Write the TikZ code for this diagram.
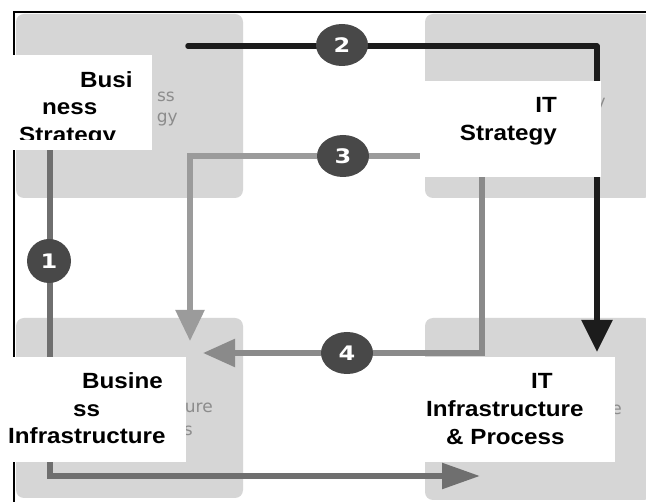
\documentclass[tikz,border=0pt]{standalone}
\usepackage{fontspec}
\setmainfont{Liberation Sans}
\newfontfamily\dejavu{DejaVu Sans}
\usetikzlibrary{arrows.meta,shapes.geometric}
\definecolor{boxgray}{HTML}{D6D6D6}
\definecolor{hidgray}{HTML}{8C8C8C}
\definecolor{badgegray}{HTML}{484848}
\definecolor{cone}{HTML}{6F6F6F}
\definecolor{ctwo}{HTML}{1C1C1C}
\definecolor{cthree}{HTML}{9B9B9B}
\definecolor{cfour}{HTML}{8A8A8A}
\newcommand\lbx[1]{\scalebox{1.1}[1]{#1}}
\newcommand\numx[1]{\scalebox{1.2}[1]{#1}}
\tikzset{
  panel/.style={fill=boxgray, rounded corners=8pt},
  hid/.style={inner sep=0pt, text=hidgray, font=\dejavu\fontsize{17}{17}\selectfont},
  lbl/.style={inner sep=0pt, text=black, font=\bfseries\fontsize{22}{22}\selectfont},
  whitebox/.style={fill=white},
  badge/.style={ellipse, fill=badgegray, minimum width=52pt, minimum height=42pt, inner sep=0pt,
    text=white, font=\dejavu\bfseries\fontsize{20}{20}\selectfont},
  conn/.style={line width=5.5pt, line join=miter},
}
\begin{document}
\begin{tikzpicture}[x=1pt,y=-1pt]
\useasboundingbox (0,0) rectangle (646,502);
\fill[white] (0,0) rectangle (646,502);
% frame
\draw[line width=2pt] (14,503) -- (14,12) -- (647,12);
% panels
\path[panel] (16,14) rectangle (243,198);
\path[panel] (425,14) rectangle (652,198);
\path[panel] (16,318) rectangle (243,498);
\path[panel] (425,318) rectangle (652,500);
% faint panel label fragments (the rest is covered by the white boxes)
\node[hid, anchor=base east] (h1) at (175,102) {ss};
\node[hid, anchor=base east] (h2) at (178,123) {gy};
\node[hid, anchor=base east] (h3) at (606,108) {y};
\node[hid, anchor=base east] (h4) at (213,413) {ure};
\node[hid, anchor=base east] (h5) at (193,436) {s};
\node[hid, anchor=base east] (h6) at (622,415) {e};
% connector points
\coordinate (a1s) at (50,140);
\coordinate (a1c) at (50,476);
\coordinate (a1e) at (480,476);
\coordinate (a2s) at (188,46);
\coordinate (a2c) at (597,46);
\coordinate (a2e) at (597,352);
\coordinate (a3s) at (420,156);
\coordinate (a3c) at (190,156);
\coordinate (a3e) at (190,341);
\coordinate (a4s) at (482,170);
\coordinate (a4c) at (482,353);
\coordinate (a4e) at (203,353);
% connectors
\draw[conn, draw=cone, -{Triangle[length=38pt,width=25pt]}] (a1s) -- (a1c) -- (a1e);
\draw[conn, draw=ctwo, line cap=round, line join=round, -{Triangle[length=32pt,width=30pt]}] (a2s) -- (a2c) -- (a2e);
\draw[conn, draw=cthree, -{Triangle[length=31pt,width=28pt]}] (a3s) -- (a3c) -- (a3e);
\draw[conn, draw=cfour, -{Triangle[length=32pt,width=27pt]}] (a4s) -- (a4c) -- (a4e);
% badges
\node[badge, minimum width=44pt, minimum height=44pt] (n1) at (49,261) {\numx{1}};
\node[badge] (n2) at (342,45) {\numx{2}};
\node[badge] (n3) at (343,156) {\numx{3}};
\node[badge] (n4) at (347,353) {\numx{4}};
% white label boxes
\path[whitebox] (0,55) rectangle (152,150);
\path[whitebox] (420,81) rectangle (601,177);
\path[whitebox] (0,357) rectangle (186,462);
\path[whitebox] (410,357) rectangle (615,462);
\begin{scope}
\clip (0,55) rectangle (152,140);
\node[lbl, anchor=base west] (bs1) at (80,88) {\lbx{Busi}};
\node[lbl, anchor=base west] (bs2) at (42,115) {\lbx{ness}};
\node[lbl, anchor=base west] (bs3) at (19,143) {\lbx{Strategy}};
\end{scope}
\node[lbl, anchor=base east] (is1) at (557,113) {\lbx{IT}};
\node[lbl, anchor=base east] (is2) at (557,141) {\lbx{Strategy}};
\node[lbl, anchor=base east] (bi1) at (163,389) {\lbx{Busine}};
\node[lbl, anchor=base west] (bi2) at (73,417) {\lbx{ss}};
\node[lbl, anchor=base west] (bi3) at (8,444) {\lbx{Infrastructure}};
\node[lbl, anchor=base west] (ii1) at (531,389) {\lbx{IT}};
\node[lbl, anchor=base west] (ii2) at (426,417) {\lbx{Infrastructure}};
\node[lbl, anchor=base west] (ii3) at (446,445) {\lbx{\& Process}};
\end{tikzpicture}
\end{document}
